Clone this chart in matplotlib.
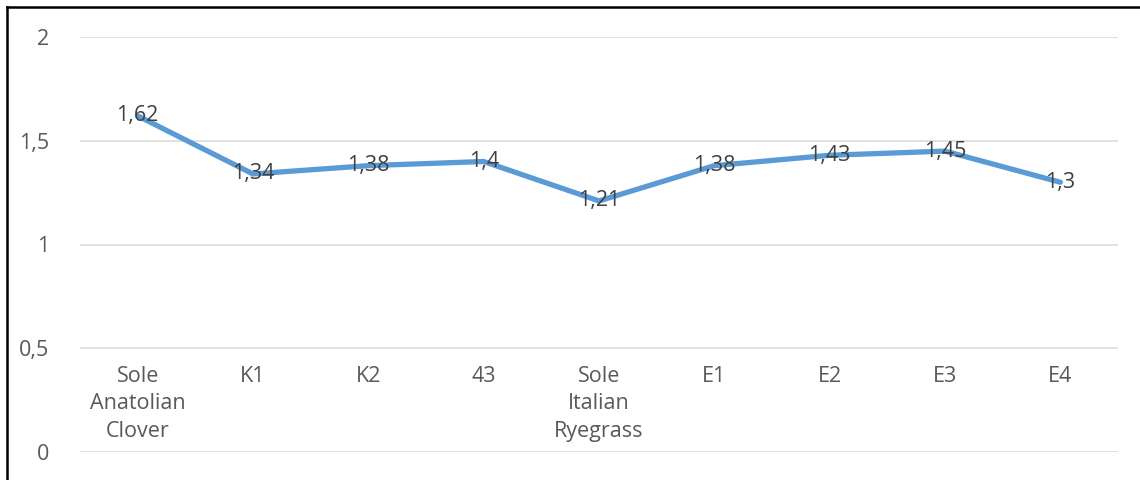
""" Line chart - Sole Anatolian Clover / Italian Ryegrass mixtures """
import matplotlib
matplotlib.use('Agg')
import matplotlib.pyplot as plt
from matplotlib.lines import Line2D

categories = ['Sole\nAnatolian\nClover', 'K1', 'K2', '43', 'Sole\nItalian\nRyegrass',
              'E1', 'E2', 'E3', 'E4']
values = [1.62, 1.34, 1.38, 1.4, 1.21, 1.38, 1.43, 1.45, 1.3]
y_ticks = [0, 0.5, 1, 1.5, 2]

plt.rcParams['font.family'] = ['Open Sans', 'DejaVu Sans']
FS = 15.5

fig = plt.figure(figsize=(11.4, 4.8), dpi=100)
ax = fig.add_axes([80 / 1140, 1 - 452 / 480, 1038 / 1140, 415 / 480])

x = list(range(len(values)))
ax.plot(x, values, color='#5B9BD5', linewidth=3.8, solid_capstyle='round',
        solid_joinstyle='round', zorder=3)

# data labels centred on the points
for xi, v in zip(x, values):
    ax.text(xi, v, f'{v:g}'.replace('.', ','), ha='center', va='center',
            fontsize=FS, color='#404040', zorder=4)

# category labels sit inside the plot, just under the 0,5 gridline
for xi, lab in zip(x, categories):
    ax.text(xi, 0.415, lab, ha='center', va='top', fontsize=FS,
            color='#595959', linespacing=1.4)

ax.set_xlim(-0.5, len(values) - 0.5)
ax.set_ylim(0, 2)
ax.set_yticks(y_ticks)
ax.set_yticklabels([f'{t:g}'.replace('.', ',') for t in y_ticks])
ax.tick_params(axis='y', length=0, pad=22, labelsize=FS, labelcolor='#595959')
ax.set_xticks([])
ax.grid(axis='y', color='#DEDEDE', linewidth=1.3)
ax.set_axisbelow(True)
for s in ax.spines.values():
    s.set_visible(False)

# frame of the cropped chart: left and top edges only
fig.add_artist(Line2D([7 / 1140, 7 / 1140], [0, 1 - 7 / 480], color='black',
                      linewidth=1.8, transform=fig.transFigure))
fig.add_artist(Line2D([7 / 1140, 1], [1 - 7 / 480, 1 - 7 / 480], color='black',
                      linewidth=1.8, transform=fig.transFigure))

fig.savefig('out.png', dpi=100, facecolor='white')
